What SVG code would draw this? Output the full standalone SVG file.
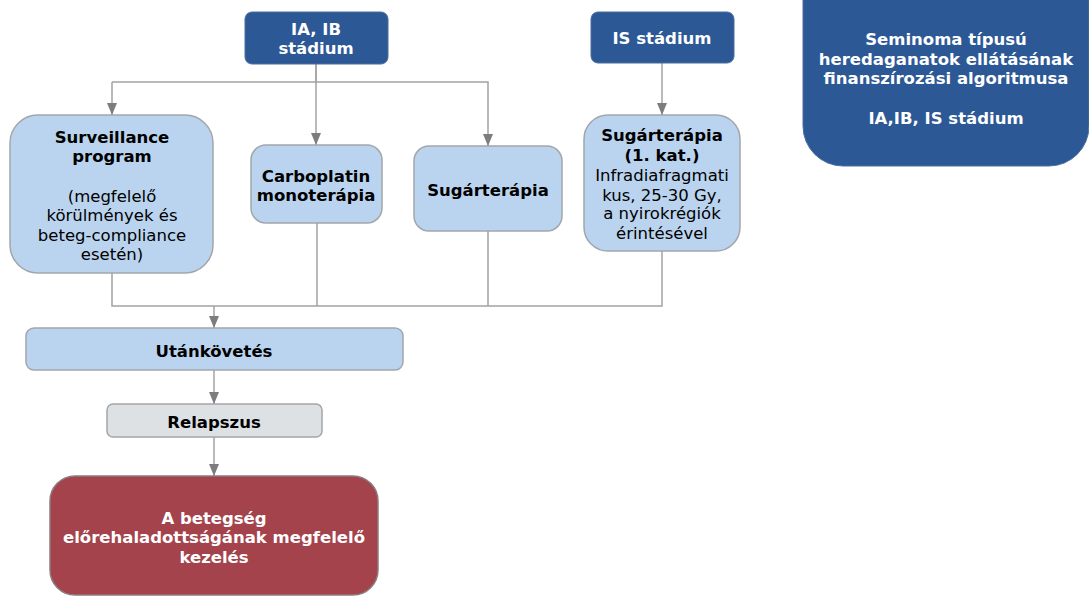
<svg xmlns="http://www.w3.org/2000/svg" width="1089" height="596" viewBox="0 0 1089 596">
  <style>
    .dark { fill: #2c5896; stroke: #4a6f9e; stroke-width: 1; }
    .light { fill: #bad4ef; stroke: #a2a6ab; stroke-width: 1.5; }
    .grey { fill: #dde1e4; stroke: #a2a6ab; stroke-width: 1.5; }
    .red { fill: #a4434c; stroke: #8c7c7e; stroke-width: 1.5; }
    text { font-family: "DejaVu Sans", Verdana, sans-serif; font-size: 16.5px; text-anchor: middle; }
    .b { font-weight: bold; }
    .w { fill: #ffffff; }
    .k { fill: #000000; }
    .conn { fill: none; stroke: #a3a3a3; stroke-width: 1.5; }
  </style>
  <defs>
    <marker id="arrow" viewBox="0 0 12 10" refX="12" refY="5" markerWidth="12" markerHeight="10" markerUnits="userSpaceOnUse" orient="auto">
      <path d="M0,0 L12,5 L0,10 Z" fill="#7d7d80"/>
    </marker>
  </defs>
  <rect width="1089" height="596" fill="#ffffff"/>

  <!-- connectors -->
  <g id="connectors">
    <path class="conn" d="M316,64 V82 H112"/>
    <path class="conn" d="M316,64 V145" marker-end="url(#arrow)"/>
    <path class="conn" d="M112,82 V115" marker-end="url(#arrow)"/>
    <path class="conn" d="M316,82 H488 V146" marker-end="url(#arrow)"/>
    <path class="conn" d="M662,63 V115" marker-end="url(#arrow)"/>
    <path class="conn" d="M112,273 V306 H662 V251"/>
    <path class="conn" d="M317,223 V306"/>
    <path class="conn" d="M488,231 V306"/>
    <path class="conn" d="M214,306 V328" marker-end="url(#arrow)"/>
    <path class="conn" d="M214,370 V404" marker-end="url(#arrow)"/>
    <path class="conn" d="M214,437 V476" marker-end="url(#arrow)"/>
  </g>

  <g id="title">
    <rect class="dark" x="803" y="-40" width="286" height="206" rx="40"/>
    <text class="b w" x="946" y="45">Seminoma típusú</text>
    <text class="b w" x="946" y="65">heredaganatok ellátásának</text>
    <text class="b w" x="946" y="84">finanszírozási algoritmusa</text>
    <text class="b w" x="946" y="124">IA,IB, IS stádium</text>
  </g>

  <g id="stage-ia-ib">
    <rect class="dark" x="245" y="12" width="143" height="52" rx="7"/>
    <text class="b w" x="316" y="35">IA, IB</text>
    <text class="b w" x="316" y="54">stádium</text>
  </g>

  <g id="stage-is">
    <rect class="dark" x="591" y="12" width="143" height="51" rx="7"/>
    <text class="b w" x="662" y="44">IS stádium</text>
  </g>

  <g id="surveillance">
    <rect class="light" x="10" y="115" width="203" height="158" rx="28"/>
    <text class="b k" x="112" y="143">Surveillance</text>
    <text class="b k" x="112" y="162">program</text>
    <text class="k" x="112" y="202">(megfelelő</text>
    <text class="k" x="112" y="221">körülmények és</text>
    <text class="k" x="112" y="241">beteg-compliance</text>
    <text class="k" x="112" y="260">esetén)</text>
  </g>

  <g id="carboplatin">
    <rect class="light" x="251" y="145" width="131" height="78" rx="15"/>
    <text class="b k" x="316" y="182">Carboplatin</text>
    <text class="b k" x="316" y="201">monoterápia</text>
  </g>

  <g id="radiotherapy">
    <rect class="light" x="414" y="146" width="148" height="85" rx="15"/>
    <text class="b k" x="488" y="196">Sugárterápia</text>
  </g>

  <g id="radiotherapy-cat1">
    <rect class="light" x="584" y="115" width="156" height="136" rx="24"/>
    <text class="b k" x="662" y="141">Sugárterápia</text>
    <text class="b k" x="662" y="161">(1. kat.)</text>
    <text class="k" x="662" y="181">Infradiafragmati</text>
    <text class="k" x="662" y="201">kus, 25-30 Gy,</text>
    <text class="k" x="662" y="219">a nyirokrégiók</text>
    <text class="k" x="662" y="239">érintésével</text>
  </g>

  <g id="follow-up">
    <rect class="light" x="26" y="328" width="377" height="42" rx="8"/>
    <text class="b k" x="214" y="357">Utánkövetés</text>
  </g>

  <g id="relapse">
    <rect class="grey" x="107" y="404" width="215" height="33" rx="6"/>
    <text class="b k" x="214" y="428">Relapszus</text>
  </g>

  <g id="treatment">
    <rect class="red" x="50" y="476" width="328" height="119" rx="25"/>
    <text class="b w" x="214" y="524">A betegség</text>
    <text class="b w" x="214" y="543">előrehaladottságának megfelelő</text>
    <text class="b w" x="214" y="563">kezelés</text>
  </g>
</svg>
